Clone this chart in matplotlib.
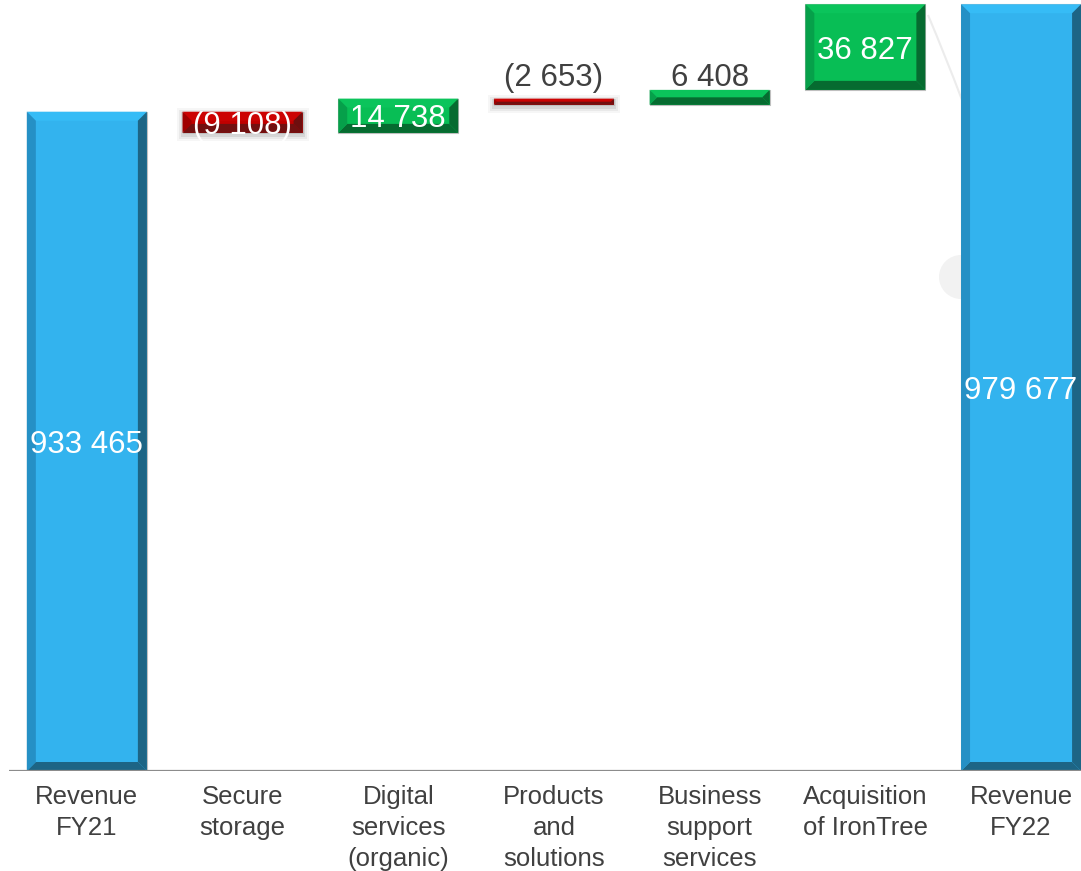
import matplotlib
matplotlib.use("Agg")
import matplotlib.pyplot as plt
from matplotlib.patches import Polygon, Rectangle, Circle
from matplotlib.path import Path
from matplotlib.patches import PathPatch

plt.rcParams["font.family"] = ["Liberation Sans", "DejaVu Sans"]

# Revenue bridge FY21 -> FY22
categories = [
    "Revenue\nFY21",
    "Secure\nstorage",
    "Digital\nservices\n(organic)",
    "Products\nand\nsolutions",
    "Business\nsupport\nservices",
    "Acquisition\nof IronTree",
    "Revenue\nFY22",
]
values = [933465, -9108, 14738, -2653, 6408, 36827, 979677]
kinds = ["total", "delta", "delta", "delta", "delta", "delta", "total"]

Y_MIN, Y_MAX = 650000, 981500

# bevel palettes: face, top, left, right, bottom
PAL = {
    "total": ("#33B3EE", "#36BCF6", "#2590C5", "#1D6585", "#1D6585"),
    "up":    ("#08BE55", "#0BC45B", "#06A04A", "#066B30", "#066B30"),
    "down":  ("#C00000", "#CC0303", "#A00000", "#6E0E0E", "#721010"),
}


def fmt(v):
    s = f"{abs(v):,}".replace(",", " ")
    return f"({s})" if v < 0 else s


W, H, DPI = 1081, 871, 100
fig = plt.figure(figsize=(W / DPI, H / DPI), dpi=DPI)
ax = fig.add_axes([9 / W, 1 - 771 / H, 1 - 9 / W, 771 / H])
ax.set_xlim(-0.5, 6.385)
ax.set_ylim(Y_MIN, Y_MAX)
for s in ax.spines.values():
    s.set_visible(False)
ax.set_yticks([])

# faint slide decorations behind the chart (pixel coordinates)
ax.add_patch(Circle((961, H - 277), 22, transform=None, facecolor="#F2F2F2",
                    edgecolor="none", zorder=0))
deco = Path([(928, H - 15), (945, H - 55), (962, H - 100)],
            [Path.MOVETO, Path.CURVE3, Path.CURVE3])
ax.add_patch(PathPatch(deco, transform=None, facecolor="none",
                       edgecolor="#ECECEC", lw=1.5, zorder=0))

# data units per pixel
px_x = (6.385 + 0.5) / (W - 9)
px_y = (Y_MAX - Y_MIN) / 771

width = 0.771
running = 0
for i, (v, k) in enumerate(zip(values, kinds)):
    if k == "total":
        lo, hi = Y_MIN, v
        running = v
        pal = PAL["total"]
    else:
        start = running
        running = running + v
        lo, hi = min(start, running), max(start, running)
        pal = PAL["up"] if v > 0 else PAL["down"]
    x0, x1 = i - width / 2, i + width / 2
    h_px = (hi - lo) / px_y
    b = min(9.0, h_px / 2)
    bx, by = b * px_x, b * px_y

    if k != "total" and v < 0:
        # soft drop shadow under decreasing bars
        for g, a in [(6, 0.035), (4, 0.05), (2, 0.08)]:
            ax.add_patch(Rectangle((x0 - g * px_x, lo - (g + 2) * px_y),
                                   width + 2 * g * px_x, hi - lo + 2 * g * px_y,
                                   facecolor="#000000", alpha=a, edgecolor="none", zorder=1))

    face, top, left, right, bottom = pal
    ax.add_patch(Rectangle((x0, lo), width, hi - lo, facecolor=face,
                           edgecolor="#BFBFBF", lw=0.8, zorder=2))
    polys = [
        ([(x0, hi), (x1, hi), (x1 - bx, hi - by), (x0 + bx, hi - by)], top),
        ([(x0, lo), (x1, lo), (x1 - bx, lo + by), (x0 + bx, lo + by)], bottom),
        ([(x0, lo), (x0, hi), (x0 + bx, hi - by), (x0 + bx, lo + by)], left),
        ([(x1, lo), (x1, hi), (x1 - bx, hi - by), (x1 - bx, lo + by)], right),
    ]
    for pts, c in polys:
        ax.add_patch(Polygon(pts, closed=True, facecolor=c, edgecolor="none", zorder=3))

    label = fmt(v)
    if h_px >= 18:
        ax.text(i, (lo + hi) / 2, label, ha="center", va="center_baseline",
                color="white", fontsize=22.5, zorder=5)
    else:
        ax.text(i, Y_MIN + (771 - 86) * px_y, label, ha="center", va="baseline",
                color="#404040", fontsize=22.5, zorder=5)

ax.axhline(Y_MIN, color="#8C8C8C", lw=1.6, zorder=4)

ax.set_xticks(range(len(categories)))
ax.set_xticklabels(categories, fontsize=18.5, color="#404040", linespacing=1.36)
ax.tick_params(axis="x", length=0, pad=10)

fig.savefig("out.png", dpi=DPI)
